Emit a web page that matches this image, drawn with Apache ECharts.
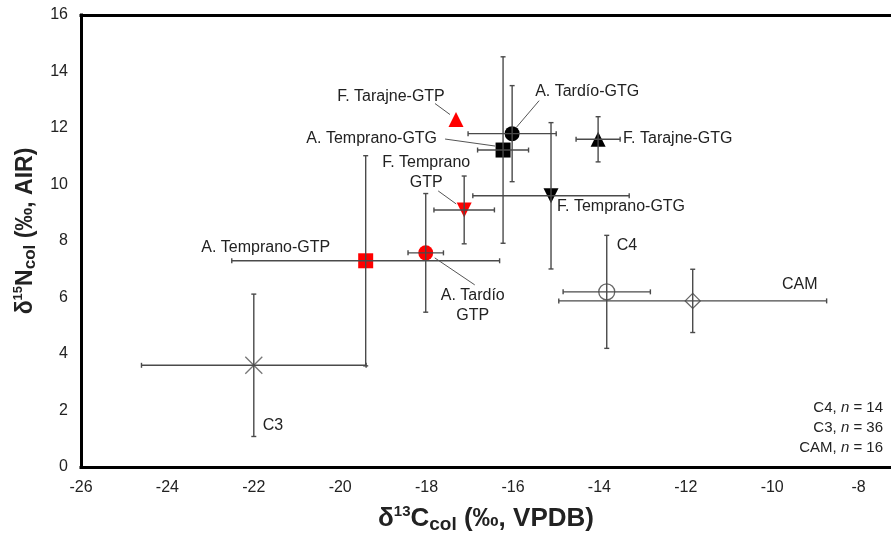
<!DOCTYPE html>
<html>
<head>
<meta charset="utf-8">
<script src="https://cdn.jsdelivr.net/npm/echarts@6/dist/echarts.min.js"></script>
<style>
  html, body { margin: 0; padding: 0; background: #fff; }
  #chart { width: 891px; height: 536px; }
</style>
</head>
<body>
<div id="chart"></div>
<script>
// Group means and standard deviations of collagen δ13C and δ15N
const groups = [
  'A. Tardío-GTG', 'A. Temprano-GTG', 'F. Tarajne-GTG', 'F. Temprano-GTG',
  'F. Tarajne-GTP', 'F. Temprano-GTP', 'A. Tardío-GTP', 'A. Temprano-GTP',
  'C3', 'C4', 'CAM'
];
const carbon     = [-16.02, -16.23, -14.03, -15.12, -17.32, -17.13, -18.02, -19.41, -22.00, -13.83, -11.84];
const nitrogen   = [ 11.80,  11.22,  11.60,   9.60,  12.30,   9.10,   7.58,   7.30,   3.60,   6.20,   5.88];
const carbonSD   = [  1.02,   0.59,   0.51,   1.81,   null,   0.70,   0.41,   3.10,   2.60,   1.01,   3.10];
const nitrogenSD = [  1.70,   3.30,   0.80,   2.59,   null,   1.20,   2.10,   3.72,   2.52,   2.00,   1.12];

// Sample counts of the plant reference groups
const refGroups = ['C4', 'C3', 'CAM'];
const refCounts = [14, 36, 16];

// Axis ranges
const xRange = [-26, -7.25];
const xStep = 2;
const xLastLabel = -8;
const yRange = [0, 16];
const yStep = 2;

const FONT = "'Liberation Sans', Arial, sans-serif";
const TEXT = '#222';
const BAR = '#4a4a4a';
const RED = '#ff0000';

// Marker look for each group
const markerStyle = {
  'A. Tardío-GTG':   { symbol: 'circle',   size: 15, color: '#000' },
  'A. Temprano-GTG': { symbol: 'rect',     size: 15, color: '#000' },
  'F. Tarajne-GTG':  { symbol: 'triangle', size: 15, color: '#000' },
  'F. Temprano-GTG': { symbol: 'triangle', size: 15, color: '#000', rotate: 180 },
  'F. Tarajne-GTP':  { symbol: 'triangle', size: 15, color: RED },
  'F. Temprano-GTP': { symbol: 'triangle', size: 15, color: RED, rotate: 180 },
  'A. Tardío-GTP':   { symbol: 'circle',   size: 15, color: RED },
  'A. Temprano-GTP': { symbol: 'rect',     size: 15, color: RED },
  'C3':  { symbol: 'path://M0,0L10,10M10,0L0,10', size: 17, color: 'none', border: '#777' },
  'C4':  { symbol: 'circle',  size: 16, color: 'none', border: '#666' },
  'CAM': { symbol: 'diamond', size: 15, color: 'none', border: '#666' }
};

// Label placement relative to each marker (pixels): text anchor, alignment, optional leader line
const labelLayout = {
  'F. Tarajne-GTP':  { dx: -65, dy: -23, align: 'center', lead: [-21, -16, -6, -5] },
  'A. Temprano-GTG': { dx: -66, dy: -11, align: 'right',  lead: [-58, -11, -8, -4] },
  'F. Temprano-GTP': { dx: -38, dy: -37, align: 'center', text: 'F. Temprano\nGTP', lead: [-26, -19, -8, -6] },
  'A. Temprano-GTP': { dx: -100, dy: -13, align: 'center' },
  'A. Tardío-GTG':   { dx: 23, dy: -42, align: 'left', lead: [27, -33, 4, -6] },
  'F. Tarajne-GTG':  { dx: 25, dy: -1, align: 'left' },
  'F. Temprano-GTG': { dx: 6, dy: 11, align: 'left' },
  'C4':              { dx: 10, dy: -46, align: 'left' },
  'A. Tardío-GTP':   { dx: 47, dy: 53, align: 'center', text: 'A. Tardío\nGTP', lead: [9, 5, 49, 32] },
  'CAM':             { dx: 107, dy: -16, align: 'center' },
  'C3':              { dx: 9, dy: 60, align: 'left' }
};

const chart = echarts.init(document.getElementById('chart'), null, { renderer: 'canvas' });

const markerData = groups.map((g, i) => {
  const s = markerStyle[g];
  return {
    name: g,
    value: [carbon[i], nitrogen[i]],
    symbol: s.symbol,
    symbolSize: s.size,
    symbolRotate: s.rotate || 0,
    itemStyle: {
      color: s.color,
      borderColor: s.border || s.color,
      borderWidth: s.border ? 1.3 : 0,
      opacity: 1
    }
  };
});

const errorData = groups.map((g, i) => [carbon[i], nitrogen[i], carbonSD[i], nitrogenSD[i]]);

function renderErrorBars(params, api) {
  const x = api.value(0), y = api.value(1);
  const sx = api.value(2), sy = api.value(3);
  const children = [];
  const cap = 2.5;
  const style = { stroke: BAR, lineWidth: 1.4 };
  if (!isNaN(sx) && sx) {
    const a = api.coord([x - sx, y]);
    const b = api.coord([x + sx, y]);
    children.push({ type: 'line', shape: { x1: a[0], y1: a[1], x2: b[0], y2: b[1] }, style });
    children.push({ type: 'line', shape: { x1: a[0], y1: a[1] - cap, x2: a[0], y2: a[1] + cap }, style });
    children.push({ type: 'line', shape: { x1: b[0], y1: b[1] - cap, x2: b[0], y2: b[1] + cap }, style });
  }
  if (!isNaN(sy) && sy) {
    const a = api.coord([x, y - sy]);
    const b = api.coord([x, y + sy]);
    children.push({ type: 'line', shape: { x1: a[0], y1: a[1], x2: b[0], y2: b[1] }, style });
    children.push({ type: 'line', shape: { x1: a[0] - cap, y1: a[1], x2: a[0] + cap, y2: a[1] }, style });
    children.push({ type: 'line', shape: { x1: b[0] - cap, y1: b[1], x2: b[0] + cap, y2: b[1] }, style });
  }
  return { type: 'group', children };
}

function renderLabels(params, api) {
  const g = groups[params.dataIndex];
  const lay = labelLayout[g];
  const p = api.coord([api.value(0), api.value(1)]);
  const children = [{
    type: 'text',
    style: {
      text: lay.text || g,
      x: p[0] + lay.dx,
      y: p[1] + lay.dy,
      align: lay.align,
      verticalAlign: 'middle',
      fill: TEXT,
      fontSize: 16,
      fontFamily: FONT,
      lineHeight: 20
    }
  }];
  if (lay.lead) {
    children.push({
      type: 'line',
      shape: {
        x1: p[0] + lay.lead[0], y1: p[1] + lay.lead[1],
        x2: p[0] + lay.lead[2], y2: p[1] + lay.lead[3]
      },
      style: { stroke: '#555', lineWidth: 1 }
    });
  }
  return { type: 'group', children };
}

function titleRich(size) {
  return {
    d:   { fontSize: size, fontWeight: 'bold', fontFamily: FONT, color: TEXT, lineHeight: size + 4 },
    sup: { fontSize: Math.round(size * 0.58), fontWeight: 'bold', fontFamily: FONT, color: TEXT, verticalAlign: 'top' },
    b:   { fontSize: size, fontWeight: 'bold', fontFamily: FONT, color: TEXT, lineHeight: size + 4 },
    sub: { fontSize: Math.round(size * 0.72), fontWeight: 'bold', fontFamily: FONT, color: TEXT, verticalAlign: 'bottom' }
  };
}

const noteGraphics = refGroups.map((g, i) => ({
  type: 'text',
  right: 8,
  top: 400 + i * 20,
  style: {
    text: '{t|' + g + ', }{i|n}{t| = ' + refCounts[i] + '}',
    rich: {
      t: { fontSize: 15, fontFamily: FONT, fill: TEXT },
      i: { fontSize: 15, fontFamily: FONT, fontStyle: 'italic', fill: TEXT }
    }
  }
}));

const frameLine = { color: '#000', width: 3, cap: 'square' };

chart.setOption({
  animation: false,
  backgroundColor: '#fff',
  grid: {
    left: 81, top: 15, right: 0, bottom: 69,
    containLabel: false,
    outerBoundsMode: 'none'
  },
  xAxis: [
    {
      type: 'value',
      min: xRange[0], max: xRange[1], interval: xStep,
      axisLine: { show: true, onZero: false, lineStyle: frameLine },
      axisTick: { show: false },
      splitLine: { show: false },
      axisLabel: {
        fontSize: 16, fontFamily: FONT, color: TEXT, margin: 13,
        formatter: v => (v > xLastLabel + 0.01 ? '' : String(v))
      },
      name: '{d|δ}{sup|13}{b|C}{sub|col}{b| (‰, VPDB)}',
      nameLocation: 'middle',
      nameGap: 37,
      nameTextStyle: { rich: titleRich(26) }
    },
    {
      type: 'value',
      position: 'top',
      min: xRange[0], max: xRange[1], interval: xStep,
      axisLine: { show: true, onZero: false, lineStyle: frameLine },
      axisTick: { show: false },
      splitLine: { show: false },
      axisLabel: { show: false }
    }
  ],
  yAxis: {
    type: 'value',
    min: yRange[0], max: yRange[1], interval: yStep,
    axisLine: { show: true, onZero: false, lineStyle: frameLine },
    axisTick: { show: false },
    splitLine: { show: false },
    axisLabel: { fontSize: 16, fontFamily: FONT, color: TEXT, margin: 13 },
    name: '{d|δ}{sup|15}{b|N}{sub|col}{b| (‰, AIR)}',
    nameLocation: 'middle',
    nameRotate: 90,
    nameGap: 40,
    nameTextStyle: { rich: titleRich(23), padding: [0, 0, 0, 20] }
  },
  graphic: noteGraphics,
  series: [
    {
      type: 'scatter',
      z: 2,
      silent: true,
      data: markerData
    },
    {
      type: 'custom',
      z: 3,
      silent: true,
      renderItem: renderErrorBars,
      data: errorData
    },
    {
      type: 'custom',
      z: 4,
      silent: true,
      renderItem: renderLabels,
      data: groups.map((g, i) => [carbon[i], nitrogen[i]])
    }
  ]
});
</script>
</body>
</html>
